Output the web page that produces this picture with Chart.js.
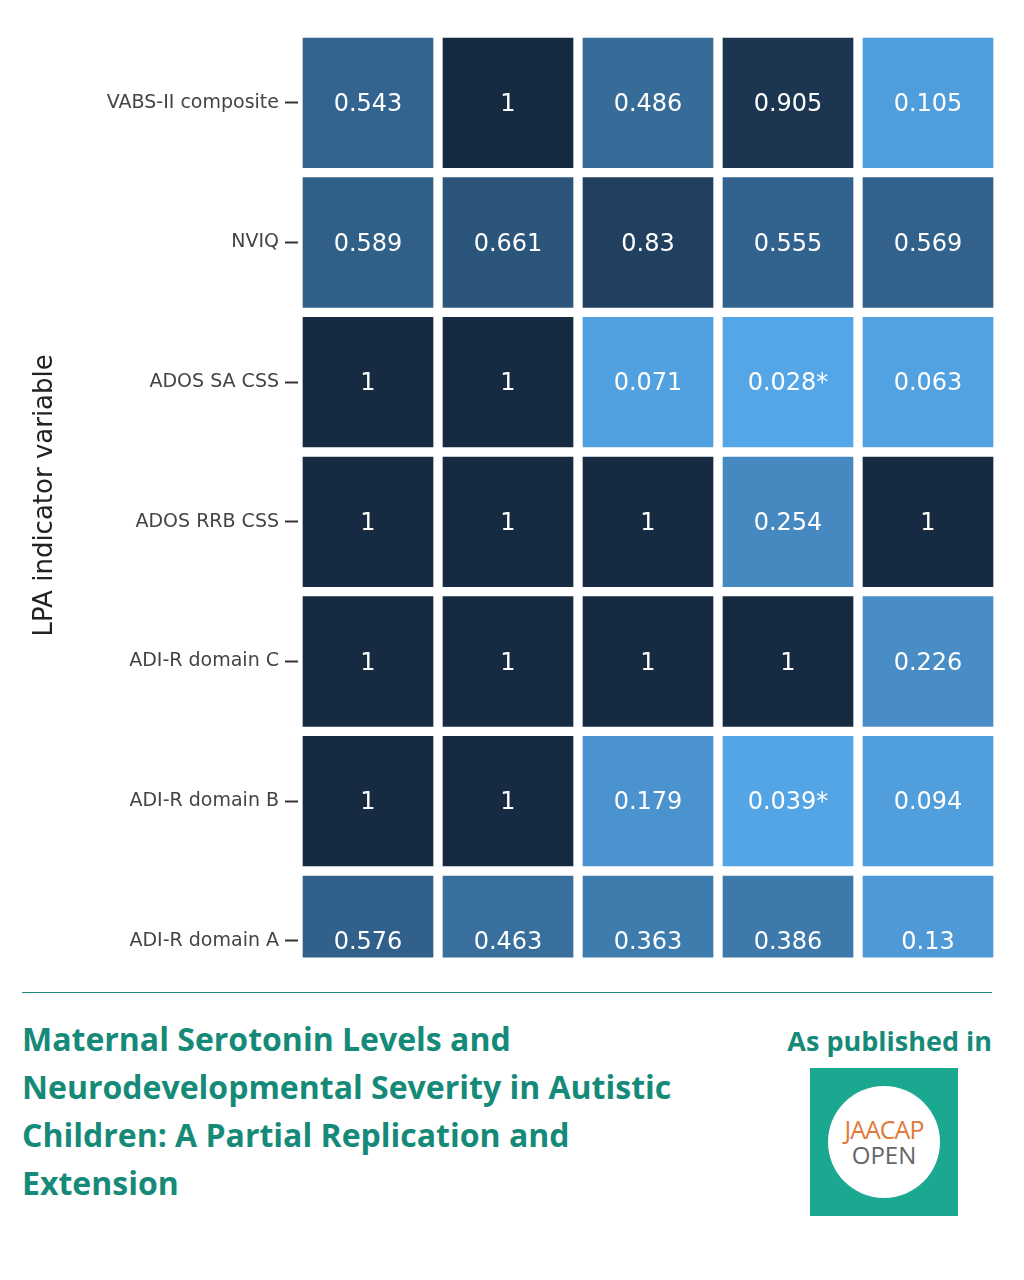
<!DOCTYPE html>
<html><head><meta charset="utf-8">
<script src="https://cdn.jsdelivr.net/npm/chart.js@4.4.1/dist/chart.umd.min.js"></script>
<style>
body{margin:0;width:1024px;height:1280px;background:#fff;position:relative;font-family:"Open Sans","Noto Sans",sans-serif;overflow:hidden}
#wrap{position:absolute;left:0;top:0;width:1024px;height:975px}
#rule{position:absolute;left:22px;top:992px;width:970px;height:1px;background:#1a8a7a}
#title{position:absolute;left:22px;top:1015px;width:700px;color:#168a78;font-weight:700;font-size:32px;line-height:48px}
#pub{position:absolute;right:32px;top:1022px;color:#168a78;font-weight:700;font-size:27px}
#logo{position:absolute;left:810px;top:1068px;width:148px;height:148px;background:#1aa890}
#circ{position:absolute;left:18px;top:18px;width:112px;height:112px;border-radius:50%;background:#fff;text-align:center}
</style></head><body>
<div id="wrap"><canvas id="c"></canvas></div>
<div id="rule"></div>
<div id="title">Maternal Serotonin Levels and Neurodevelopmental Severity in Autistic Children: A Partial Replication and Extension</div>
<div id="pub">As published in</div>
<div id="logo"><div id="circ"><div style="padding-top:30px;color:#e07a3a;font-size:25px;line-height:26px;letter-spacing:-1px">JAACAP</div><div style="color:#666;font-size:24px;line-height:26px">OPEN</div></div></div>
<script>
const columns=["1","2","3","4","5"];
const rows=["ADI-R domain A","ADI-R domain B","ADI-R domain C","ADOS RRB CSS","ADOS SA CSS","NVIQ","VABS-II composite"];
const vADIA=[0.576,0.463,0.363,0.386,0.13];
const vADIB=[1,1,0.179,0.039,0.094];
const vADIC=[1,1,1,1,0.226];
const vRRB=[1,1,1,0.254,1];
const vSA=[1,1,0.071,0.028,0.063];
const vNVIQ=[0.589,0.661,0.83,0.555,0.569];
const vVABS=[0.543,1,0.486,0.905,0.105];
const allVals=[vADIA,vADIB,vADIC,vRRB,vSA,vNVIQ,vVABS];
function col(v){const r=Math.round(86-64*v),g=Math.round(170-128*v),b=Math.round(236-170*v);return `rgb(${r},${g},${b})`;}
function lab(v){return (v===1?"1":String(v))+(v<0.05?"*":"");}
const datasets=rows.map((r,i)=>({label:r,data:columns.map(()=>1),vals:allVals[i],
 backgroundColor:allVals[i].map(col),borderColor:"#fff",borderWidth:5,borderSkipped:false,
 barPercentage:1,categoryPercentage:1,stack:"s"}));
const cellLabels={id:"cl",afterDatasetsDraw(ch){const ctx=ch.ctx;ctx.save();
 ctx.beginPath();const a=ch.chartArea;ctx.rect(a.left,a.top,a.right-a.left,a.bottom-a.top);ctx.clip();
 ctx.fillStyle="#fff";ctx.font="24px 'DejaVu Sans'";ctx.textAlign="center";ctx.textBaseline="middle";
 ch.data.datasets.forEach((d,i)=>{ch.getDatasetMeta(i).data.forEach((b,j)=>{ctx.fillText(lab(d.vals[j]),b.x,(b.y+b.base)/2+2);});});
 ctx.restore();}};
new Chart(document.getElementById("c"),{type:"bar",data:{labels:columns,datasets},plugins:[cellLabels],
options:{responsive:true,maintainAspectRatio:false,animation:false,
 layout:{padding:{top:33,right:26,left:30,bottom:0}},
 plugins:{legend:{display:false},tooltip:{enabled:false}},
 scales:{x:{stacked:true,display:false},
  y:{stacked:true,min:0.38,max:7,position:"left",
   afterBuildTicks(s){s.ticks=rows.map((r,i)=>({value:i+0.5}));},
   ticks:{callback:(v)=>rows[Math.round(v-0.5)],color:"#444",font:{family:"DejaVu Sans",size:19},padding:6},
   grid:{display:true,drawOnChartArea:false,drawTicks:true,tickLength:13,tickColor:"#333",tickWidth:2,offset:false},
   border:{display:false},
   afterFit(s){s.width=268;},
   title:{display:true,text:"LPA indicator variable",color:"#222",font:{family:"DejaVu Sans",size:26},padding:{top:0,bottom:30}}}}}});
</script></body></html>
